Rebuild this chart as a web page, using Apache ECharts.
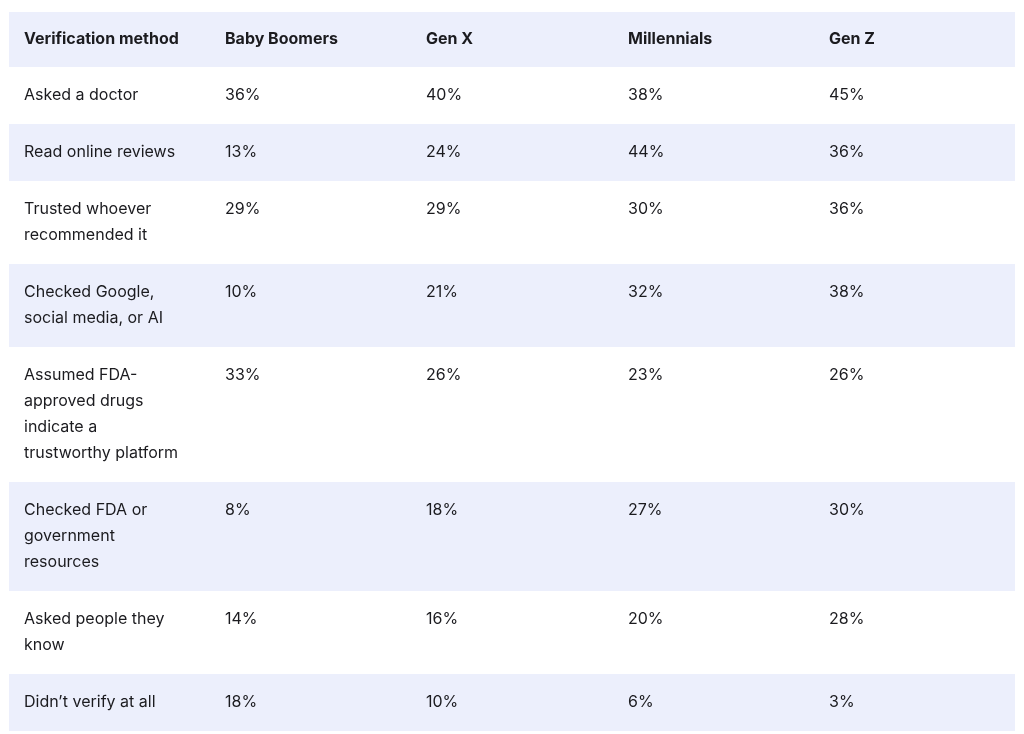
<!DOCTYPE html>
<html><head><meta charset="utf-8">
<script src="https://cdn.jsdelivr.net/npm/echarts@6/dist/echarts.min.js"></script>
<style>html,body{margin:0;padding:0;background:#fff}#c{width:1024px;height:734px}</style>
</head><body><div id="c"></div>
<script>
const headers = ['Verification method','Baby Boomers','Gen X','Millennials','Gen Z'];
const methods = ['Asked a doctor','Read online reviews','Trusted whoever\nrecommended it','Checked Google,\nsocial media, or AI','Assumed FDA-\napproved drugs\nindicate a\ntrustworthy platform','Checked FDA or\ngovernment\nresources','Asked people they\nknow','Didn\u2019t verify at all'];
const babyBoomers = [36,13,29,10,33,8,14,18];
const genX = [40,24,29,21,26,18,16,10];
const millennials = [38,44,30,32,23,27,20,6];
const genZ = [45,36,36,38,26,30,28,3];

const colX = [24,225,426,628,829];
const tableL = 9, tableR = 1015, top0 = 12, headH = 55, lineH = 26;
const rowTops = []; let y = top0 + headH;
methods.forEach(m => { rowTops.push(y); y += 31 + lineH * m.split('\n').length; });
const rowBottoms = rowTops.map((t,i)=> t + 31 + lineH*methods[i].split('\n').length);

const rows = [[-1]].concat(methods.map((m,i)=>[i]));
const font = 'Inter, "Noto Sans", sans-serif';

const chart = echarts.init(document.getElementById('c'));
chart.setOption({
  animation:false,
  grid:{left:0,right:0,top:0,bottom:0},
  xAxis:{type:'value',min:0,max:1024,show:false},
  yAxis:{type:'value',min:0,max:734,inverse:true,show:false},
  series:[{
    type:'custom',
    data: rows,
    renderItem:function(params, api){
      const i = api.value(0);
      const isHead = i < 0;
      const t = isHead ? top0 : rowTops[i];
      const b = isHead ? top0 + headH : rowBottoms[i];
      const p0 = api.coord([tableL, t]), p1 = api.coord([tableR, b]);
      const fill = (isHead || i % 2 === 1) ? '#eceffc' : '#ffffff';
      const children = [{type:'rect',shape:{x:p0[0],y:p0[1],width:p1[0]-p0[0],height:p1[1]-p0[1]},style:{fill:fill}}];
      const cells = isHead ? headers : [methods[i], babyBoomers[i]+'%', genX[i]+'%', millennials[i]+'%', genZ[i]+'%'];
      cells.forEach((txt,k)=>{
        const c = api.coord([colX[k], isHead ? t + headH/2 : t + 28]);
        children.push({type:'text',x:c[0],y:c[1],style:{text:txt,fill:'#1b1b1f',font:(isHead?'bold ':'')+'16px '+font,lineHeight:lineH,verticalAlign:isHead?'middle':'top',textAlign:'left'},
          y: isHead ? c[1] : c[1] - lineH/2});
      });
      return {type:'group',children:children};
    }
  }]
});
</script></body></html>
